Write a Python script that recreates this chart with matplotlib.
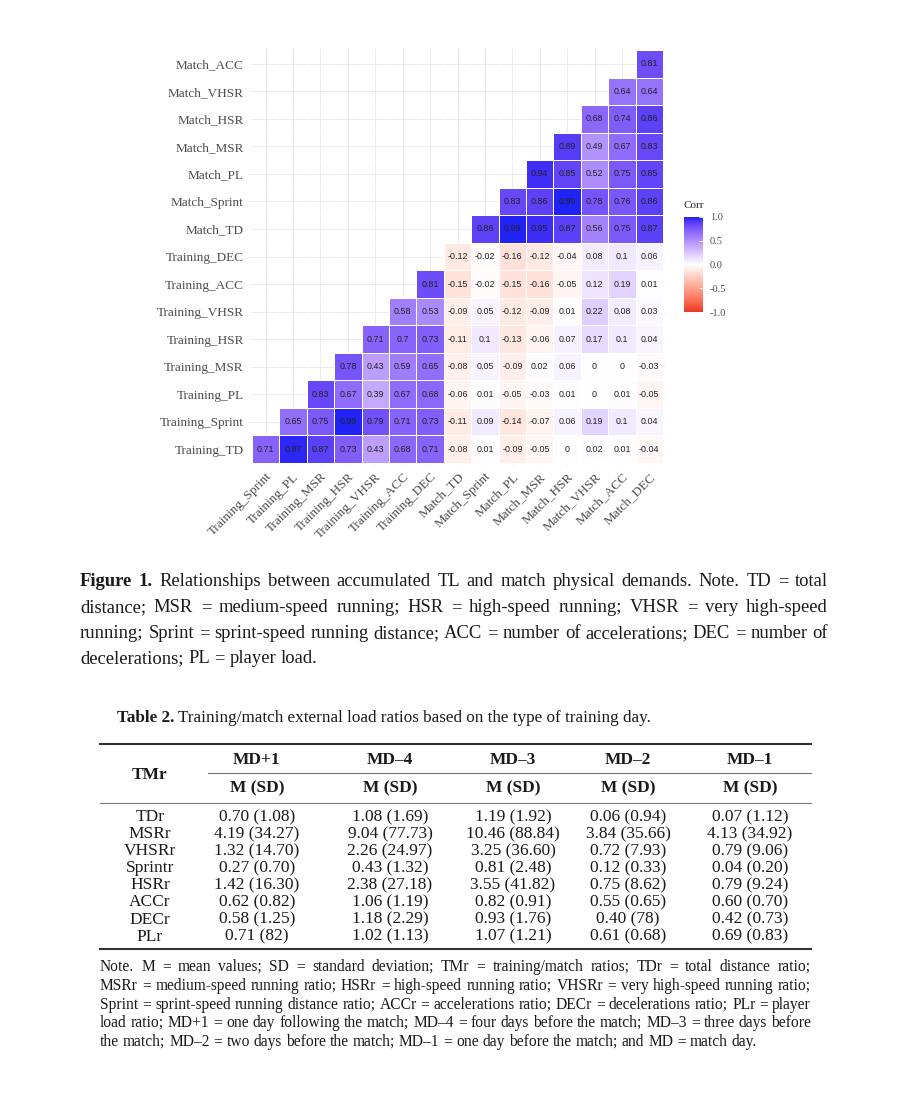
import matplotlib
matplotlib.use("Agg")
import matplotlib.pyplot as plt
import numpy as np
from matplotlib.colors import ListedColormap, Normalize
from matplotlib.cm import ScalarMappable

# ---------------- data ----------------
x_labels = ["Training_Sprint", "Training_PL", "Training_MSR", "Training_HSR",
            "Training_VHSR", "Training_ACC", "Training_DEC", "Match_TD",
            "Match_Sprint", "Match_PL", "Match_MSR", "Match_HSR",
            "Match_VHSR", "Match_ACC", "Match_DEC"]
y_labels = ["Training_TD", "Training_Sprint", "Training_PL", "Training_MSR",
            "Training_HSR", "Training_VHSR", "Training_ACC", "Training_DEC",
            "Match_TD", "Match_Sprint", "Match_PL", "Match_MSR", "Match_HSR",
            "Match_VHSR", "Match_ACC"]

# each row starts at the column with the same index as the row
r_training_td = [0.71, 0.97, 0.87, 0.73, 0.43, 0.68, 0.71, -0.08, 0.01, -0.09, -0.05, 0, 0.02, 0.01, -0.04]
r_training_sprint = [0.65, 0.75, 0.99, 0.79, 0.71, 0.73, -0.11, 0.09, -0.14, -0.07, 0.06, 0.19, 0.1, 0.04]
r_training_pl = [0.83, 0.67, 0.39, 0.67, 0.68, -0.06, 0.01, -0.05, -0.03, 0.01, 0, 0.01, -0.05]
r_training_msr = [0.78, 0.43, 0.59, 0.65, -0.08, 0.05, -0.09, 0.02, 0.06, 0, 0, -0.03]
r_training_hsr = [0.71, 0.7, 0.73, -0.11, 0.1, -0.13, -0.06, 0.07, 0.17, 0.1, 0.04]
r_training_vhsr = [0.58, 0.53, -0.09, 0.05, -0.12, -0.09, 0.01, 0.22, 0.08, 0.03]
r_training_acc = [0.81, -0.15, -0.02, -0.15, -0.16, -0.05, 0.12, 0.19, 0.01]
r_training_dec = [-0.12, -0.02, -0.16, -0.12, -0.04, 0.08, 0.1, 0.06]
r_match_td = [0.86, 0.99, 0.95, 0.87, 0.56, 0.75, 0.87]
r_match_sprint = [0.83, 0.86, 0.99, 0.78, 0.76, 0.86]
r_match_pl = [0.94, 0.85, 0.52, 0.75, 0.85]
r_match_msr = [0.89, 0.49, 0.67, 0.83]
r_match_hsr = [0.68, 0.74, 0.86]
r_match_vhsr = [0.64, 0.64]
r_match_acc = [0.81]
corr_rows = [r_training_td, r_training_sprint, r_training_pl, r_training_msr,
             r_training_hsr, r_training_vhsr, r_training_acc, r_training_dec,
             r_match_td, r_match_sprint, r_match_pl, r_match_msr, r_match_hsr,
             r_match_vhsr, r_match_acc]

cbar_ticks = [-1.0, -0.5, 0.0, 0.5, 1.0]

tbl_rows = ["TDr", "MSRr", "VHSRr", "Sprintr", "HSRr", "ACCr", "DECr", "PLr"]
tbl_cols = ["MD+1", "MD\u20134", "MD\u20133", "MD\u20132", "MD\u20131"]
col_md_p1 = ["0.70 (1.08)", "4.19 (34.27)", "1.32 (14.70)", "0.27 (0.70)", "1.42 (16.30)", "0.62 (0.82)", "0.58 (1.25)", "0.71 (82)"]
col_md_4 = ["1.08 (1.69)", "9.04 (77.73)", "2.26 (24.97)", "0.43 (1.32)", "2.38 (27.18)", "1.06 (1.19)", "1.18 (2.29)", "1.02 (1.13)"]
col_md_3 = ["1.19 (1.92)", "10.46 (88.84)", "3.25 (36.60)", "0.81 (2.48)", "3.55 (41.82)", "0.82 (0.91)", "0.93 (1.76)", "1.07 (1.21)"]
col_md_2 = ["0.06 (0.94)", "3.84 (35.66)", "0.72 (7.93)", "0.12 (0.33)", "0.75 (8.62)", "0.55 (0.65)", "0.40 (78)", "0.61 (0.68)"]
col_md_1 = ["0.07 (1.12)", "4.13 (34.92)", "0.79 (9.06)", "0.04 (0.20)", "0.79 (9.24)", "0.60 (0.70)", "0.42 (0.73)", "0.69 (0.83)"]
tbl_data = [col_md_p1, col_md_4, col_md_3, col_md_2, col_md_1]

caption_lines = [
    "Figure 1. Relationships between accumulated TL and match physical demands. Note. TD = total",
    "distance; MSR = medium-speed running; HSR = high-speed running; VHSR = very high-speed",
    "running; Sprint = sprint-speed running distance; ACC = number of accelerations; DEC = number of",
    "decelerations; PL = player load.",
]
note_lines = [
    "Note.  M = mean values; SD = standard deviation; TMr = training/match ratios; TDr = total distance ratio;",
    "MSRr = medium-speed running ratio; HSRr = high-speed running ratio; VHSRr = very high-speed running ratio;",
    "Sprint = sprint-speed running distance ratio; ACCr = accelerations ratio; DECr = decelerations ratio; PLr = player",
    "load ratio; MD+1 = one day following the match; MD\u20134 = four days before the match; MD\u20133 = three days before",
    "the match; MD\u20132 = two days before the match; MD\u20131 = one day before the match; and MD = match day.",
]

# ---------------- helpers ----------------
W, H = 904, 1108
SERIF = "Liberation Serif"
SANS = "Liberation Sans"
INK = "#1a1a1a"


def fx(x):
    return x / W


def fy(y):
    return 1 - y / H


_M = np.array([[0.4124564, 0.3575761, 0.1804375],
               [0.2126729, 0.7151522, 0.0721750],
               [0.0193339, 0.1191920, 0.9503041]])
_Minv = np.linalg.inv(_M)
_WHITE = np.array([0.95047, 1.0, 1.08883])


def srgb2lab(c):
    c = np.asarray(c, float)
    lin = np.where(c <= 0.04045, c / 12.92, ((c + 0.055) / 1.055) ** 2.4)
    xyz = (_M @ lin) / _WHITE
    f = np.where(xyz > 0.008856, np.cbrt(xyz), 7.787 * xyz + 16 / 116)
    return np.array([116 * f[1] - 16, 500 * (f[0] - f[1]), 200 * (f[1] - f[2])])


def lab2srgb(lab):
    L, a, b = lab
    fyy = (L + 16) / 116
    f = np.array([fyy + a / 500, fyy, fyy - b / 200])
    xyz = np.where(f ** 3 > 0.008856, f ** 3, (f - 16 / 116) / 7.787) * _WHITE
    lin = np.clip(_Minv @ xyz, 0, 1)
    c = np.where(lin <= 0.0031308, 12.92 * lin, 1.055 * lin ** (1 / 2.4) - 0.055)
    return np.clip(c, 0, 1)


low = srgb2lab([0.92, 0.2, 0.15])
mid = srgb2lab([1, 1, 1])
high = srgb2lab([0.1, 0.13, 0.96])
cols = []
for v in np.linspace(-1, 1, 256):
    if v < 0:
        lab = mid + (low - mid) * (-v)
    else:
        lab = mid + (high - mid) * v
    cols.append(lab2srgb(lab))
cmap = ListedColormap(cols)
cmap.set_bad((1, 1, 1, 0))

# ---------------- figure ----------------
fig = plt.figure(figsize=(W / 100, H / 100), dpi=100)
fig.patch.set_facecolor("white")
renderer = fig.canvas.get_renderer()

# heatmap axes (cells 252..663 x, 50..463 y)
pad = 2 / 27.4
ax = fig.add_axes([fx(250), fy(465), 415 / W, 417 / H])
n = len(x_labels)
mat = np.full((len(y_labels), n), np.nan)
for i, row in enumerate(corr_rows):
    mat[i, i:i + len(row)] = row
masked = np.ma.masked_invalid(mat)
ax.pcolormesh(np.arange(n + 1) - 0.5, np.arange(len(y_labels) + 1) - 0.5, masked,
              cmap=cmap, vmin=-1, vmax=1, edgecolors="white", linewidth=0.4,
              zorder=2)
for i, row in enumerate(corr_rows):
    for k, v in enumerate(row):
        ax.text(i + k, i, "{:g}".format(round(v, 2)), ha="center", va="center",
                fontsize=6.4, family=SANS, color="#222222", zorder=3)
ax.set_xlim(-0.5 - pad, n - 0.5 + pad)
ax.set_ylim(-0.5 - pad, len(y_labels) - 0.5 + pad)
ax.set_xticks(range(n))
ax.set_yticks(range(len(y_labels)))
ax.set_xticklabels(x_labels, rotation=45, ha="right", va="top",
                   rotation_mode="anchor", family=SERIF, fontsize=9.5,
                   color="#4D4D4D")
ax.set_yticklabels(y_labels, family=SERIF, fontsize=9.5, color="#4D4D4D")
ax.tick_params(length=0, pad=4.5)
ax.tick_params(axis="x", pad=4)
ax.grid(color="#EBEBEB", linewidth=0.7, zorder=0)
ax.set_axisbelow(True)
for s in ax.spines.values():
    s.set_visible(False)

# colorbar
cax = fig.add_axes([fx(684), fy(312), 19 / W, 95 / H])
cb = fig.colorbar(ScalarMappable(norm=Normalize(-1, 1), cmap=cmap), cax=cax,
                  ticks=cbar_ticks)
cb.outline.set_visible(False)
cax.set_yticklabels(["{:.1f}".format(t) for t in cbar_ticks], family=SERIF,
                    fontsize=7.5, color="#4D4D4D")
cax.tick_params(length=3, width=0.6, color="white", direction="in", pad=5)
fig.text(fx(683), fy(205), "Corr", family=SERIF, fontsize=8, color="#222222",
         va="center", ha="left")


# ---------------- text helpers ----------------
def word_width(t):
    return t.get_window_extent(renderer).width


def justify(line, x0, x1, y, size, bold_n=0, last=False, color=INK):
    words = [w for w in line.split(" ") if w != ""]
    px = size * 100 / 72
    ybase = y + 0.33 * px
    texts = []
    for k, w in enumerate(words):
        t = fig.text(0, fy(ybase), w, fontsize=size, family=SERIF, color=color,
                     weight="bold" if k < bold_n else "normal", va="baseline",
                     ha="left")
        texts.append(t)
    widths = [word_width(t) for t in texts]
    space = 0.25 * px
    if last or len(words) == 1:
        gap = space
    else:
        gap = (x1 - x0 - sum(widths)) / (len(words) - 1)
    x = x0
    for t, wd in zip(texts, widths):
        t.set_x(fx(x))
        x += wd + gap


# caption
cap_y = [580, 606, 632, 657]
for k, line in enumerate(caption_lines):
    justify(line, 80, 828, cap_y[k], 13.4, bold_n=2 if k == 0 else 0,
            last=(k == len(caption_lines) - 1))

# table title
t1 = fig.text(fx(117), fy(718), "Table 2.", fontsize=12.3, family=SERIF,
              weight="bold", va="center", ha="left", color=INK)
w1 = word_width(t1)
fig.text(fx(117 + w1 + 4), fy(718), "Training/match external load ratios based on the type of training day.",
         fontsize=12.3, family=SERIF, va="center", ha="left", color=INK)

# table rules
fig.add_artist(plt.Line2D([fx(100), fx(811)], [fy(744), fy(744)], lw=1.5,
                          color="#333333", transform=fig.transFigure))
fig.add_artist(plt.Line2D([fx(208), fx(811)], [fy(773), fy(773)], lw=0.8,
                          color="#777777", transform=fig.transFigure))
fig.add_artist(plt.Line2D([fx(100), fx(811)], [fy(803), fy(803)], lw=0.8,
                          color="#777777", transform=fig.transFigure))
fig.add_artist(plt.Line2D([fx(100), fx(811)], [fy(949), fy(949)], lw=1.5,
                          color="#333333", transform=fig.transFigure))

TS = 12.5
col_x = [257, 390, 513, 628, 750]
fig.text(fx(150), fy(775), "TMr", fontsize=TS, family=SERIF, weight="bold",
         ha="center", va="center", color=INK)
for cx, name in zip(col_x, tbl_cols):
    fig.text(fx(cx), fy(760), name, fontsize=TS, family=SERIF, weight="bold",
             ha="center", va="center", color=INK)
    fig.text(fx(cx), fy(788), "M (SD)", fontsize=TS, family=SERIF,
             weight="bold", ha="center", va="center", color=INK)

row_y0, row_dy = 817, 17.1
for r, name in enumerate(tbl_rows):
    yy = row_y0 + r * row_dy
    fig.text(fx(150), fy(yy), name, fontsize=TS, family=SERIF, ha="center",
             va="center", color=INK)
    for cx, col in zip(col_x, tbl_data):
        fig.text(fx(cx), fy(yy), col[r], fontsize=TS, family=SERIF,
                 ha="center", va="center", color=INK)

note_y = [966, 985, 1004, 1022, 1041]
for k, line in enumerate(note_lines):
    justify(line, 100, 811, note_y[k], 11.2, last=(k == len(note_lines) - 1))

fig.savefig("out.png", dpi=100, facecolor="white")
